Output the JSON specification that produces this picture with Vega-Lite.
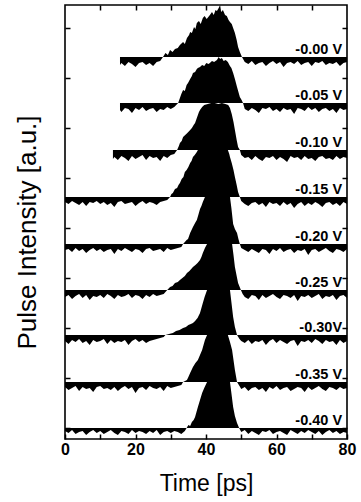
{
"$schema": "https://vega.github.io/schema/vega-lite/v6.json",
"width": 282, "height": 434,
"autosize": {"type": "none"},
"padding": {"left": 65, "top": 5, "right": 14, "bottom": 63},
"background": "white",
"config": {
  "view": {"stroke": "black", "strokeWidth": 1.6},
  "axis": {"domain": false, "grid": false, "tickColor": "black", "tickWidth": 1.5, "tickSize": 5, "labelFont": "Liberation Sans", "titleFont": "Liberation Sans", "labelColor": "black", "titleColor": "black"}
},
"layer": [
{
"data": {"values": [
{"s":0,"t":15.6,"y":382,"y2":374},{"s":0,"t":16,"y":382,"y2":376},{"s":0,"t":17,"y":382,"y2":373},{"s":0,"t":18,"y":382,"y2":377},{"s":0,"t":19,"y":382,"y2":375},{"s":0,"t":20,"y":382,"y2":372},{"s":0,"t":21,"y":382,"y2":376},{"s":0,"t":22,"y":382,"y2":377},{"s":0,"t":23,"y":382,"y2":374},{"s":0,"t":24,"y":382,"y2":376},{"s":0,"t":25,"y":382,"y2":373},{"s":0,"t":26,"y":382,"y2":377},{"s":0,"t":27,"y":382,"y2":378},
{"s":0,"t":27.8,"y":382,"y2":382},{"s":0,"t":28.5,"y":386,"y2":382},{"s":0,"t":29.2,"y":384,"y2":382},{"s":0,"t":29.8,"y":389,"y2":382},{"s":0,"t":30.5,"y":387,"y2":382},{"s":0,"t":31.2,"y":390,"y2":382},{"s":0,"t":32.0,"y":391,"y2":382},{"s":0,"t":32.6,"y":394,"y2":382},{"s":0,"t":33.5,"y":397,"y2":382},{"s":0,"t":34.0,"y":395,"y2":382},{"s":0,"t":34.6,"y":401,"y2":382},{"s":0,"t":35.2,"y":404,"y2":382},{"s":0,"t":35.5,"y":407,"y2":382},{"s":0,"t":36.0,"y":406,"y2":382},{"s":0,"t":36.6,"y":412,"y2":382},{"s":0,"t":37.0,"y":410,"y2":382},{"s":0,"t":37.4,"y":416,"y2":382},{"s":0,"t":38.0,"y":418,"y2":382},{"s":0,"t":38.5,"y":415,"y2":382},{"s":0,"t":39.1,"y":421,"y2":382},{"s":0,"t":39.6,"y":423,"y2":382},{"s":0,"t":40.2,"y":420,"y2":382},{"s":0,"t":41.1,"y":424,"y2":382},{"s":0,"t":41.7,"y":427,"y2":382},{"s":0,"t":42.2,"y":424,"y2":382},{"s":0,"t":42.7,"y":429,"y2":382},{"s":0,"t":43.1,"y":428,"y2":382},{"s":0,"t":43.6,"y":431,"y2":382},{"s":0,"t":44.0,"y":434,"y2":382},{"s":0,"t":44.3,"y":427,"y2":382},{"s":0,"t":44.8,"y":429,"y2":382},{"s":0,"t":45.4,"y":424,"y2":382},{"s":0,"t":45.9,"y":423,"y2":382},{"s":0,"t":46.4,"y":419,"y2":382},{"s":0,"t":46.8,"y":417,"y2":382},{"s":0,"t":47.3,"y":415,"y2":382},{"s":0,"t":47.8,"y":410,"y2":382},{"s":0,"t":48.2,"y":406,"y2":382},{"s":0,"t":48.7,"y":399,"y2":382},{"s":0,"t":49.1,"y":392,"y2":382},{"s":0,"t":49.6,"y":387,"y2":382},{"s":0,"t":50.2,"y":382,"y2":382},
{"s":0,"t":51,"y":382,"y2":377},{"s":0,"t":52,"y":382,"y2":375},{"s":0,"t":53,"y":382,"y2":378},{"s":0,"t":54,"y":382,"y2":374},{"s":0,"t":55,"y":382,"y2":376},{"s":0,"t":56,"y":382,"y2":377},{"s":0,"t":57,"y":382,"y2":373},{"s":0,"t":58,"y":382,"y2":376},{"s":0,"t":59,"y":382,"y2":378},{"s":0,"t":60,"y":382,"y2":375},{"s":0,"t":61,"y":382,"y2":377},{"s":0,"t":62,"y":382,"y2":372},{"s":0,"t":63,"y":382,"y2":376},{"s":0,"t":64,"y":382,"y2":377},{"s":0,"t":65,"y":382,"y2":375},{"s":0,"t":66,"y":382,"y2":378},{"s":0,"t":67,"y":382,"y2":374},{"s":0,"t":68,"y":382,"y2":376},{"s":0,"t":69,"y":382,"y2":377},{"s":0,"t":70,"y":382,"y2":373},{"s":0,"t":71,"y":382,"y2":377},{"s":0,"t":72,"y":382,"y2":376},{"s":0,"t":73,"y":382,"y2":378},{"s":0,"t":74,"y":382,"y2":374},{"s":0,"t":75,"y":382,"y2":376},{"s":0,"t":76,"y":382,"y2":375},{"s":0,"t":77,"y":382,"y2":377},{"s":0,"t":78,"y":382,"y2":373},{"s":0,"t":79,"y":382,"y2":376},{"s":0,"t":80,"y":382,"y2":377},

{"s":1,"t":15.6,"y":336,"y2":329},{"s":1,"t":16,"y":336,"y2":327},{"s":1,"t":17,"y":336,"y2":331},{"s":1,"t":18,"y":336,"y2":330},{"s":1,"t":19,"y":336,"y2":326},{"s":1,"t":20,"y":336,"y2":331},{"s":1,"t":21,"y":336,"y2":329},{"s":1,"t":22,"y":336,"y2":332},{"s":1,"t":23,"y":336,"y2":328},{"s":1,"t":24,"y":336,"y2":330},{"s":1,"t":25,"y":336,"y2":331},{"s":1,"t":26,"y":336,"y2":327},{"s":1,"t":27,"y":336,"y2":330},{"s":1,"t":28,"y":336,"y2":329},{"s":1,"t":29,"y":336,"y2":332},{"s":1,"t":30,"y":336,"y2":330},{"s":1,"t":31,"y":336,"y2":332},
{"s":1,"t":32.1,"y":336,"y2":336},{"s":1,"t":32.6,"y":341,"y2":336},{"s":1,"t":33.0,"y":345,"y2":336},{"s":1,"t":33.5,"y":349,"y2":336},{"s":1,"t":34.0,"y":348,"y2":336},{"s":1,"t":34.5,"y":354,"y2":336},{"s":1,"t":34.9,"y":356,"y2":336},{"s":1,"t":35.5,"y":360,"y2":336},{"s":1,"t":36.0,"y":363,"y2":336},{"s":1,"t":36.3,"y":366,"y2":336},{"s":1,"t":36.9,"y":367,"y2":336},{"s":1,"t":37.4,"y":370,"y2":336},{"s":1,"t":37.7,"y":371,"y2":336},{"s":1,"t":38.3,"y":372,"y2":336},{"s":1,"t":38.9,"y":374,"y2":336},{"s":1,"t":39.5,"y":373,"y2":336},{"s":1,"t":40.1,"y":376,"y2":336},{"s":1,"t":40.7,"y":375,"y2":336},{"s":1,"t":41.1,"y":376,"y2":336},{"s":1,"t":41.7,"y":378,"y2":336},{"s":1,"t":42.3,"y":377,"y2":336},{"s":1,"t":43.1,"y":379,"y2":336},{"s":1,"t":43.6,"y":382,"y2":336},{"s":1,"t":44.0,"y":380,"y2":336},{"s":1,"t":44.5,"y":381,"y2":336},{"s":1,"t":45.0,"y":378,"y2":336},{"s":1,"t":45.6,"y":379,"y2":336},{"s":1,"t":46.2,"y":377,"y2":336},{"s":1,"t":46.8,"y":373,"y2":336},{"s":1,"t":47.2,"y":371,"y2":336},{"s":1,"t":47.7,"y":366,"y2":336},{"s":1,"t":48.2,"y":360,"y2":336},{"s":1,"t":48.8,"y":352,"y2":336},{"s":1,"t":49.2,"y":347,"y2":336},{"s":1,"t":49.6,"y":342,"y2":336},{"s":1,"t":50.1,"y":339,"y2":336},{"s":1,"t":50.5,"y":336,"y2":336},
{"s":1,"t":51,"y":336,"y2":330},{"s":1,"t":52,"y":336,"y2":328},{"s":1,"t":53,"y":336,"y2":331},{"s":1,"t":54,"y":336,"y2":329},{"s":1,"t":55,"y":336,"y2":326},{"s":1,"t":56,"y":336,"y2":331},{"s":1,"t":57,"y":336,"y2":330},{"s":1,"t":58,"y":336,"y2":332},{"s":1,"t":59,"y":336,"y2":328},{"s":1,"t":60,"y":336,"y2":330},{"s":1,"t":61,"y":336,"y2":327},{"s":1,"t":62,"y":336,"y2":331},{"s":1,"t":63,"y":336,"y2":329},{"s":1,"t":64,"y":336,"y2":330},{"s":1,"t":65,"y":336,"y2":325},{"s":1,"t":66,"y":336,"y2":331},{"s":1,"t":67,"y":336,"y2":330},{"s":1,"t":68,"y":336,"y2":328},{"s":1,"t":69,"y":336,"y2":332},{"s":1,"t":70,"y":336,"y2":329},{"s":1,"t":71,"y":336,"y2":331},{"s":1,"t":72,"y":336,"y2":327},{"s":1,"t":73,"y":336,"y2":330},{"s":1,"t":74,"y":336,"y2":331},{"s":1,"t":75,"y":336,"y2":328},{"s":1,"t":76,"y":336,"y2":330},{"s":1,"t":77,"y":336,"y2":326},{"s":1,"t":78,"y":336,"y2":331},{"s":1,"t":79,"y":336,"y2":329},{"s":1,"t":80,"y":336,"y2":330},

{"s":2,"t":13.6,"y":289,"y2":280},{"s":2,"t":14,"y":289,"y2":282},{"s":2,"t":15,"y":289,"y2":279},{"s":2,"t":16,"y":289,"y2":283},{"s":2,"t":17,"y":289,"y2":281},{"s":2,"t":18,"y":289,"y2":278},{"s":2,"t":19,"y":289,"y2":283},{"s":2,"t":20,"y":289,"y2":280},{"s":2,"t":21,"y":289,"y2":282},{"s":2,"t":22,"y":289,"y2":284},{"s":2,"t":23,"y":289,"y2":279},{"s":2,"t":24,"y":289,"y2":283},{"s":2,"t":25,"y":289,"y2":281},{"s":2,"t":26,"y":289,"y2":282},{"s":2,"t":27,"y":289,"y2":278},{"s":2,"t":28,"y":289,"y2":283},{"s":2,"t":29,"y":289,"y2":281},{"s":2,"t":30,"y":289,"y2":284},{"s":2,"t":31,"y":289,"y2":285},
{"s":2,"t":31.8,"y":289,"y2":289},{"s":2,"t":32.3,"y":293,"y2":289},{"s":2,"t":32.6,"y":296,"y2":289},{"s":2,"t":33.1,"y":298,"y2":289},{"s":2,"t":33.5,"y":302,"y2":289},{"s":2,"t":34.1,"y":304,"y2":289},{"s":2,"t":34.7,"y":306,"y2":289},{"s":2,"t":35.5,"y":309,"y2":289},{"s":2,"t":36.0,"y":311,"y2":289},{"s":2,"t":36.5,"y":314,"y2":289},{"s":2,"t":36.9,"y":316,"y2":289},{"s":2,"t":37.3,"y":320,"y2":289},{"s":2,"t":37.7,"y":324,"y2":289},{"s":2,"t":38.0,"y":327,"y2":289},{"s":2,"t":38.3,"y":329,"y2":289},{"s":2,"t":38.9,"y":332,"y2":289},{"s":2,"t":39.5,"y":334,"y2":289},{"s":2,"t":40.5,"y":335,"y2":289},{"s":2,"t":41.5,"y":336,"y2":289},{"s":2,"t":42.5,"y":336,"y2":289},{"s":2,"t":43.5,"y":335,"y2":289},{"s":2,"t":44.5,"y":336,"y2":289},{"s":2,"t":45.5,"y":335,"y2":289},{"s":2,"t":46.3,"y":334,"y2":289},{"s":2,"t":46.8,"y":331,"y2":289},{"s":2,"t":47.3,"y":325,"y2":289},{"s":2,"t":47.8,"y":317,"y2":289},{"s":2,"t":48.2,"y":309,"y2":289},{"s":2,"t":48.7,"y":299,"y2":289},{"s":2,"t":49.1,"y":292,"y2":289},{"s":2,"t":49.6,"y":289,"y2":289},
{"s":2,"t":50,"y":289,"y2":284},{"s":2,"t":51,"y":289,"y2":281},{"s":2,"t":52,"y":289,"y2":282},{"s":2,"t":53,"y":289,"y2":279},{"s":2,"t":54,"y":289,"y2":283},{"s":2,"t":55,"y":289,"y2":280},{"s":2,"t":56,"y":289,"y2":278},{"s":2,"t":57,"y":289,"y2":282},{"s":2,"t":58,"y":289,"y2":281},{"s":2,"t":59,"y":289,"y2":283},{"s":2,"t":60,"y":289,"y2":279},{"s":2,"t":61,"y":289,"y2":282},{"s":2,"t":62,"y":289,"y2":280},{"s":2,"t":63,"y":289,"y2":277},{"s":2,"t":64,"y":289,"y2":283},{"s":2,"t":65,"y":289,"y2":281},{"s":2,"t":66,"y":289,"y2":282},{"s":2,"t":67,"y":289,"y2":279},{"s":2,"t":68,"y":289,"y2":283},{"s":2,"t":69,"y":289,"y2":280},{"s":2,"t":70,"y":289,"y2":281},{"s":2,"t":71,"y":289,"y2":278},{"s":2,"t":72,"y":289,"y2":282},{"s":2,"t":73,"y":289,"y2":283},{"s":2,"t":74,"y":289,"y2":280},{"s":2,"t":75,"y":289,"y2":281},{"s":2,"t":76,"y":289,"y2":279},{"s":2,"t":77,"y":289,"y2":283},{"s":2,"t":78,"y":289,"y2":280},{"s":2,"t":79,"y":289,"y2":282},{"s":2,"t":80,"y":289,"y2":281},

{"s":3,"t":0,"y":242,"y2":237},{"s":3,"t":1,"y":242,"y2":235},{"s":3,"t":2,"y":242,"y2":238},{"s":3,"t":3,"y":242,"y2":236},{"s":3,"t":4,"y":242,"y2":234},{"s":3,"t":5,"y":242,"y2":237},{"s":3,"t":6,"y":242,"y2":233},{"s":3,"t":7,"y":242,"y2":237},{"s":3,"t":8,"y":242,"y2":236},{"s":3,"t":9,"y":242,"y2":238},{"s":3,"t":10,"y":242,"y2":235},{"s":3,"t":11,"y":242,"y2":237},{"s":3,"t":12,"y":242,"y2":234},{"s":3,"t":13,"y":242,"y2":236},{"s":3,"t":14,"y":242,"y2":232},{"s":3,"t":15,"y":242,"y2":237},{"s":3,"t":16,"y":242,"y2":238},{"s":3,"t":17,"y":242,"y2":235},{"s":3,"t":18,"y":242,"y2":236},{"s":3,"t":19,"y":242,"y2":237},{"s":3,"t":20,"y":242,"y2":233},{"s":3,"t":21,"y":242,"y2":236},{"s":3,"t":22,"y":242,"y2":238},{"s":3,"t":23,"y":242,"y2":235},{"s":3,"t":24,"y":242,"y2":237},{"s":3,"t":25,"y":242,"y2":236},{"s":3,"t":26,"y":242,"y2":234},{"s":3,"t":27,"y":242,"y2":237},{"s":3,"t":28,"y":242,"y2":238},{"s":3,"t":29,"y":242,"y2":239},
{"s":3,"t":29.8,"y":242,"y2":242},{"s":3,"t":30.2,"y":245,"y2":242},{"s":3,"t":30.6,"y":246,"y2":242},{"s":3,"t":31.2,"y":250,"y2":242},{"s":3,"t":31.8,"y":251,"y2":242},{"s":3,"t":32.2,"y":254,"y2":242},{"s":3,"t":32.6,"y":256,"y2":242},{"s":3,"t":33.1,"y":260,"y2":242},{"s":3,"t":33.6,"y":262,"y2":242},{"s":3,"t":34.0,"y":267,"y2":242},{"s":3,"t":34.5,"y":269,"y2":242},{"s":3,"t":35.0,"y":272,"y2":242},{"s":3,"t":35.5,"y":276,"y2":242},{"s":3,"t":35.9,"y":278,"y2":242},{"s":3,"t":36.3,"y":282,"y2":242},{"s":3,"t":36.8,"y":284,"y2":242},{"s":3,"t":37.4,"y":287,"y2":242},{"s":3,"t":37.7,"y":289,"y2":242},{"s":3,"t":46.2,"y":289,"y2":242},{"s":3,"t":46.6,"y":285,"y2":242},{"s":3,"t":46.8,"y":282,"y2":242},{"s":3,"t":47.3,"y":276,"y2":242},{"s":3,"t":47.8,"y":269,"y2":242},{"s":3,"t":48.2,"y":262,"y2":242},{"s":3,"t":48.7,"y":254,"y2":242},{"s":3,"t":49.1,"y":247,"y2":242},{"s":3,"t":49.6,"y":242,"y2":242},
{"s":3,"t":50,"y":242,"y2":238},{"s":3,"t":51,"y":242,"y2":235},{"s":3,"t":52,"y":242,"y2":233},{"s":3,"t":53,"y":242,"y2":236},{"s":3,"t":54,"y":242,"y2":237},{"s":3,"t":55,"y":242,"y2":234},{"s":3,"t":56,"y":242,"y2":236},{"s":3,"t":57,"y":242,"y2":232},{"s":3,"t":58,"y":242,"y2":237},{"s":3,"t":59,"y":242,"y2":235},{"s":3,"t":60,"y":242,"y2":236},{"s":3,"t":61,"y":242,"y2":233},{"s":3,"t":62,"y":242,"y2":237},{"s":3,"t":63,"y":242,"y2":234},{"s":3,"t":64,"y":242,"y2":236},{"s":3,"t":65,"y":242,"y2":231},{"s":3,"t":66,"y":242,"y2":235},{"s":3,"t":67,"y":242,"y2":237},{"s":3,"t":68,"y":242,"y2":233},{"s":3,"t":69,"y":242,"y2":236},{"s":3,"t":70,"y":242,"y2":234},{"s":3,"t":71,"y":242,"y2":237},{"s":3,"t":72,"y":242,"y2":235},{"s":3,"t":73,"y":242,"y2":232},{"s":3,"t":74,"y":242,"y2":236},{"s":3,"t":75,"y":242,"y2":237},{"s":3,"t":76,"y":242,"y2":234},{"s":3,"t":77,"y":242,"y2":236},{"s":3,"t":78,"y":242,"y2":233},{"s":3,"t":79,"y":242,"y2":237},{"s":3,"t":80,"y":242,"y2":235},

{"s":4,"t":0,"y":195,"y2":189},{"s":4,"t":1,"y":195,"y2":190},{"s":4,"t":2,"y":195,"y2":187},{"s":4,"t":3,"y":195,"y2":191},{"s":4,"t":4,"y":195,"y2":188},{"s":4,"t":5,"y":195,"y2":190},{"s":4,"t":6,"y":195,"y2":186},{"s":4,"t":7,"y":195,"y2":189},{"s":4,"t":8,"y":195,"y2":191},{"s":4,"t":9,"y":195,"y2":188},{"s":4,"t":10,"y":195,"y2":190},{"s":4,"t":11,"y":195,"y2":187},{"s":4,"t":12,"y":195,"y2":189},{"s":4,"t":13,"y":195,"y2":190},{"s":4,"t":14,"y":195,"y2":185},{"s":4,"t":15,"y":195,"y2":190},{"s":4,"t":16,"y":195,"y2":188},{"s":4,"t":17,"y":195,"y2":191},{"s":4,"t":18,"y":195,"y2":189},{"s":4,"t":19,"y":195,"y2":187},{"s":4,"t":20,"y":195,"y2":190},{"s":4,"t":21,"y":195,"y2":189},{"s":4,"t":22,"y":195,"y2":186},{"s":4,"t":23,"y":195,"y2":190},{"s":4,"t":24,"y":195,"y2":191},{"s":4,"t":25,"y":195,"y2":188},{"s":4,"t":26,"y":195,"y2":189},{"s":4,"t":27,"y":195,"y2":190},{"s":4,"t":28,"y":195,"y2":187},{"s":4,"t":29,"y":195,"y2":191},{"s":4,"t":30,"y":195,"y2":189},{"s":4,"t":31,"y":195,"y2":190},{"s":4,"t":32,"y":195,"y2":191},{"s":4,"t":33,"y":195,"y2":192},
{"s":4,"t":33.5,"y":195,"y2":195},{"s":4,"t":34.0,"y":197,"y2":195},{"s":4,"t":34.5,"y":199,"y2":195},{"s":4,"t":34.9,"y":200,"y2":195},{"s":4,"t":35.5,"y":206,"y2":195},{"s":4,"t":35.9,"y":209,"y2":195},{"s":4,"t":36.3,"y":212,"y2":195},{"s":4,"t":36.9,"y":216,"y2":195},{"s":4,"t":37.4,"y":219,"y2":195},{"s":4,"t":37.9,"y":225,"y2":195},{"s":4,"t":38.3,"y":230,"y2":195},{"s":4,"t":38.7,"y":233,"y2":195},{"s":4,"t":39.1,"y":237,"y2":195},{"s":4,"t":39.7,"y":242,"y2":195},{"s":4,"t":46.8,"y":242,"y2":195},{"s":4,"t":47.2,"y":231,"y2":195},{"s":4,"t":47.7,"y":215,"y2":195},{"s":4,"t":48.2,"y":210,"y2":195},{"s":4,"t":48.8,"y":206,"y2":195},{"s":4,"t":49.2,"y":200,"y2":195},{"s":4,"t":49.6,"y":195,"y2":195},
{"s":4,"t":50,"y":195,"y2":191},{"s":4,"t":51,"y":195,"y2":189},{"s":4,"t":52,"y":195,"y2":187},{"s":4,"t":53,"y":195,"y2":190},{"s":4,"t":54,"y":195,"y2":188},{"s":4,"t":55,"y":195,"y2":186},{"s":4,"t":56,"y":195,"y2":190},{"s":4,"t":57,"y":195,"y2":189},{"s":4,"t":58,"y":195,"y2":185},{"s":4,"t":59,"y":195,"y2":190},{"s":4,"t":60,"y":195,"y2":188},{"s":4,"t":61,"y":195,"y2":191},{"s":4,"t":62,"y":195,"y2":187},{"s":4,"t":63,"y":195,"y2":189},{"s":4,"t":64,"y":195,"y2":190},{"s":4,"t":65,"y":195,"y2":186},{"s":4,"t":66,"y":195,"y2":189},{"s":4,"t":67,"y":195,"y2":188},{"s":4,"t":68,"y":195,"y2":190},{"s":4,"t":69,"y":195,"y2":184},{"s":4,"t":70,"y":195,"y2":189},{"s":4,"t":71,"y":195,"y2":190},{"s":4,"t":72,"y":195,"y2":187},{"s":4,"t":73,"y":195,"y2":189},{"s":4,"t":74,"y":195,"y2":191},{"s":4,"t":75,"y":195,"y2":188},{"s":4,"t":76,"y":195,"y2":186},{"s":4,"t":77,"y":195,"y2":190},{"s":4,"t":78,"y":195,"y2":189},{"s":4,"t":79,"y":195,"y2":187},{"s":4,"t":80,"y":195,"y2":190},

{"s":5,"t":0,"y":149,"y2":142},{"s":5,"t":1,"y":149,"y2":144},{"s":5,"t":2,"y":149,"y2":140},{"s":5,"t":3,"y":149,"y2":143},{"s":5,"t":4,"y":149,"y2":145},{"s":5,"t":5,"y":149,"y2":141},{"s":5,"t":6,"y":149,"y2":144},{"s":5,"t":7,"y":149,"y2":139},{"s":5,"t":8,"y":149,"y2":143},{"s":5,"t":9,"y":149,"y2":142},{"s":5,"t":10,"y":149,"y2":144},{"s":5,"t":11,"y":149,"y2":141},{"s":5,"t":12,"y":149,"y2":145},{"s":5,"t":13,"y":149,"y2":143},{"s":5,"t":14,"y":149,"y2":140},{"s":5,"t":15,"y":149,"y2":144},{"s":5,"t":16,"y":149,"y2":142},{"s":5,"t":17,"y":149,"y2":143},{"s":5,"t":18,"y":149,"y2":145},{"s":5,"t":19,"y":149,"y2":141},{"s":5,"t":20,"y":149,"y2":144},{"s":5,"t":21,"y":149,"y2":143},{"s":5,"t":22,"y":149,"y2":140},{"s":5,"t":23,"y":149,"y2":144},{"s":5,"t":24,"y":149,"y2":142},{"s":5,"t":25,"y":149,"y2":145},{"s":5,"t":26,"y":149,"y2":143},{"s":5,"t":27,"y":149,"y2":144},{"s":5,"t":28,"y":149,"y2":145},
{"s":5,"t":29.0,"y":149,"y2":149},{"s":5,"t":29.8,"y":152,"y2":149},{"s":5,"t":30.5,"y":153,"y2":149},{"s":5,"t":31.2,"y":156,"y2":149},{"s":5,"t":32.0,"y":157,"y2":149},{"s":5,"t":32.6,"y":159,"y2":149},{"s":5,"t":33.3,"y":161,"y2":149},{"s":5,"t":34.0,"y":163,"y2":149},{"s":5,"t":34.6,"y":166,"y2":149},{"s":5,"t":35.3,"y":168,"y2":149},{"s":5,"t":35.8,"y":170,"y2":149},{"s":5,"t":36.3,"y":172,"y2":149},{"s":5,"t":37.0,"y":174,"y2":149},{"s":5,"t":37.6,"y":176,"y2":149},{"s":5,"t":38.3,"y":179,"y2":149},{"s":5,"t":38.7,"y":182,"y2":149},{"s":5,"t":39.1,"y":186,"y2":149},{"s":5,"t":39.7,"y":191,"y2":149},{"s":5,"t":40.3,"y":195,"y2":149},{"s":5,"t":47.4,"y":195,"y2":149},{"s":5,"t":47.8,"y":184,"y2":149},{"s":5,"t":48.2,"y":172,"y2":149},{"s":5,"t":48.7,"y":163,"y2":149},{"s":5,"t":49.1,"y":156,"y2":149},{"s":5,"t":49.9,"y":149,"y2":149},
{"s":5,"t":50.4,"y":149,"y2":145},{"s":5,"t":51,"y":149,"y2":142},{"s":5,"t":52,"y":149,"y2":140},{"s":5,"t":53,"y":149,"y2":144},{"s":5,"t":54,"y":149,"y2":143},{"s":5,"t":55,"y":149,"y2":139},{"s":5,"t":56,"y":149,"y2":144},{"s":5,"t":57,"y":149,"y2":141},{"s":5,"t":58,"y":149,"y2":143},{"s":5,"t":59,"y":149,"y2":145},{"s":5,"t":60,"y":149,"y2":142},{"s":5,"t":61,"y":149,"y2":140},{"s":5,"t":62,"y":149,"y2":144},{"s":5,"t":63,"y":149,"y2":143},{"s":5,"t":64,"y":149,"y2":141},{"s":5,"t":65,"y":149,"y2":144},{"s":5,"t":66,"y":149,"y2":138},{"s":5,"t":67,"y":149,"y2":143},{"s":5,"t":68,"y":149,"y2":142},{"s":5,"t":69,"y":149,"y2":144},{"s":5,"t":70,"y":149,"y2":141},{"s":5,"t":71,"y":149,"y2":143},{"s":5,"t":72,"y":149,"y2":145},{"s":5,"t":73,"y":149,"y2":140},{"s":5,"t":74,"y":149,"y2":143},{"s":5,"t":75,"y":149,"y2":142},{"s":5,"t":76,"y":149,"y2":144},{"s":5,"t":77,"y":149,"y2":139},{"s":5,"t":78,"y":149,"y2":143},{"s":5,"t":79,"y":149,"y2":144},{"s":5,"t":80,"y":149,"y2":141},

{"s":6,"t":0,"y":104,"y2":98},{"s":6,"t":1,"y":104,"y2":95},{"s":6,"t":2,"y":104,"y2":99},{"s":6,"t":3,"y":104,"y2":97},{"s":6,"t":4,"y":104,"y2":100},{"s":6,"t":5,"y":104,"y2":96},{"s":6,"t":6,"y":104,"y2":98},{"s":6,"t":7,"y":104,"y2":94},{"s":6,"t":8,"y":104,"y2":99},{"s":6,"t":9,"y":104,"y2":97},{"s":6,"t":10,"y":104,"y2":98},{"s":6,"t":11,"y":104,"y2":100},{"s":6,"t":12,"y":104,"y2":95},{"s":6,"t":13,"y":104,"y2":99},{"s":6,"t":14,"y":104,"y2":96},{"s":6,"t":15,"y":104,"y2":98},{"s":6,"t":16,"y":104,"y2":97},{"s":6,"t":17,"y":104,"y2":99},{"s":6,"t":18,"y":104,"y2":94},{"s":6,"t":19,"y":104,"y2":98},{"s":6,"t":20,"y":104,"y2":100},{"s":6,"t":21,"y":104,"y2":97},{"s":6,"t":22,"y":104,"y2":99},{"s":6,"t":23,"y":104,"y2":96},{"s":6,"t":24,"y":104,"y2":98},{"s":6,"t":25,"y":104,"y2":99},{"s":6,"t":26,"y":104,"y2":100},{"s":6,"t":27,"y":104,"y2":101},{"s":6,"t":28,"y":104,"y2":102},
{"s":6,"t":28.5,"y":104,"y2":104},{"s":6,"t":29.5,"y":105,"y2":104},{"s":6,"t":30.6,"y":106,"y2":104},{"s":6,"t":31.5,"y":108,"y2":104},{"s":6,"t":32.5,"y":109,"y2":104},{"s":6,"t":33.5,"y":111,"y2":104},{"s":6,"t":34.3,"y":112,"y2":104},{"s":6,"t":35.0,"y":114,"y2":104},{"s":6,"t":35.7,"y":115,"y2":104},{"s":6,"t":36.3,"y":116,"y2":104},{"s":6,"t":36.9,"y":118,"y2":104},{"s":6,"t":37.6,"y":121,"y2":104},{"s":6,"t":38.3,"y":126,"y2":104},{"s":6,"t":38.7,"y":131,"y2":104},{"s":6,"t":39.1,"y":136,"y2":104},{"s":6,"t":39.6,"y":142,"y2":104},{"s":6,"t":40.3,"y":149,"y2":104},{"s":6,"t":46.8,"y":149,"y2":104},{"s":6,"t":47.2,"y":137,"y2":104},{"s":6,"t":47.7,"y":122,"y2":104},{"s":6,"t":48.2,"y":112,"y2":104},{"s":6,"t":48.8,"y":104,"y2":104},
{"s":6,"t":49.5,"y":104,"y2":100},{"s":6,"t":50,"y":104,"y2":98},{"s":6,"t":51,"y":104,"y2":96},{"s":6,"t":52,"y":104,"y2":99},{"s":6,"t":53,"y":104,"y2":95},{"s":6,"t":54,"y":104,"y2":98},{"s":6,"t":55,"y":104,"y2":97},{"s":6,"t":56,"y":104,"y2":99},{"s":6,"t":57,"y":104,"y2":94},{"s":6,"t":58,"y":104,"y2":98},{"s":6,"t":59,"y":104,"y2":100},{"s":6,"t":60,"y":104,"y2":96},{"s":6,"t":61,"y":104,"y2":99},{"s":6,"t":62,"y":104,"y2":97},{"s":6,"t":63,"y":104,"y2":95},{"s":6,"t":64,"y":104,"y2":98},{"s":6,"t":65,"y":104,"y2":99},{"s":6,"t":66,"y":104,"y2":93},{"s":6,"t":67,"y":104,"y2":98},{"s":6,"t":68,"y":104,"y2":97},{"s":6,"t":69,"y":104,"y2":99},{"s":6,"t":70,"y":104,"y2":96},{"s":6,"t":71,"y":104,"y2":100},{"s":6,"t":72,"y":104,"y2":98},{"s":6,"t":73,"y":104,"y2":95},{"s":6,"t":74,"y":104,"y2":99},{"s":6,"t":75,"y":104,"y2":97},{"s":6,"t":76,"y":104,"y2":98},{"s":6,"t":77,"y":104,"y2":94},{"s":6,"t":78,"y":104,"y2":99},{"s":6,"t":79,"y":104,"y2":96},{"s":6,"t":80,"y":104,"y2":98},

{"s":7,"t":0,"y":57,"y2":52},{"s":7,"t":1,"y":57,"y2":49},{"s":7,"t":2,"y":57,"y2":51},{"s":7,"t":3,"y":57,"y2":53},{"s":7,"t":4,"y":57,"y2":48},{"s":7,"t":5,"y":57,"y2":52},{"s":7,"t":6,"y":57,"y2":50},{"s":7,"t":7,"y":57,"y2":51},{"s":7,"t":8,"y":57,"y2":47},{"s":7,"t":9,"y":57,"y2":52},{"s":7,"t":10,"y":57,"y2":53},{"s":7,"t":11,"y":57,"y2":50},{"s":7,"t":12,"y":57,"y2":51},{"s":7,"t":13,"y":57,"y2":49},{"s":7,"t":14,"y":57,"y2":52},{"s":7,"t":15,"y":57,"y2":48},{"s":7,"t":16,"y":57,"y2":51},{"s":7,"t":17,"y":57,"y2":53},{"s":7,"t":18,"y":57,"y2":50},{"s":7,"t":19,"y":57,"y2":52},{"s":7,"t":20,"y":57,"y2":46},{"s":7,"t":21,"y":57,"y2":51},{"s":7,"t":22,"y":57,"y2":52},{"s":7,"t":23,"y":57,"y2":49},{"s":7,"t":24,"y":57,"y2":53},{"s":7,"t":25,"y":57,"y2":51},{"s":7,"t":26,"y":57,"y2":50},{"s":7,"t":27,"y":57,"y2":52},{"s":7,"t":28,"y":57,"y2":48},{"s":7,"t":29,"y":57,"y2":53},{"s":7,"t":30,"y":57,"y2":51},{"s":7,"t":31,"y":57,"y2":52},{"s":7,"t":32,"y":57,"y2":53},{"s":7,"t":33,"y":57,"y2":54},
{"s":7,"t":33.5,"y":57,"y2":57},{"s":7,"t":34.6,"y":59,"y2":57},{"s":7,"t":35.0,"y":62,"y2":57},{"s":7,"t":35.5,"y":66,"y2":57},{"s":7,"t":35.9,"y":69,"y2":57},{"s":7,"t":36.3,"y":72,"y2":57},{"s":7,"t":37.0,"y":76,"y2":57},{"s":7,"t":37.7,"y":79,"y2":57},{"s":7,"t":38.3,"y":84,"y2":57},{"s":7,"t":38.9,"y":89,"y2":57},{"s":7,"t":39.3,"y":94,"y2":57},{"s":7,"t":39.7,"y":99,"y2":57},{"s":7,"t":40.3,"y":104,"y2":57},{"s":7,"t":46.2,"y":104,"y2":57},{"s":7,"t":46.8,"y":97,"y2":57},{"s":7,"t":47.4,"y":89,"y2":57},{"s":7,"t":47.8,"y":79,"y2":57},{"s":7,"t":48.2,"y":69,"y2":57},{"s":7,"t":48.5,"y":63,"y2":57},{"s":7,"t":48.8,"y":57,"y2":57},
{"s":7,"t":49.5,"y":57,"y2":53},{"s":7,"t":50,"y":57,"y2":50},{"s":7,"t":51,"y":57,"y2":52},{"s":7,"t":52,"y":57,"y2":48},{"s":7,"t":53,"y":57,"y2":51},{"s":7,"t":54,"y":57,"y2":52},{"s":7,"t":55,"y":57,"y2":49},{"s":7,"t":56,"y":57,"y2":51},{"s":7,"t":57,"y":57,"y2":47},{"s":7,"t":58,"y":57,"y2":52},{"s":7,"t":59,"y":57,"y2":50},{"s":7,"t":60,"y":57,"y2":53},{"s":7,"t":61,"y":57,"y2":49},{"s":7,"t":62,"y":57,"y2":51},{"s":7,"t":63,"y":57,"y2":52},{"s":7,"t":64,"y":57,"y2":48},{"s":7,"t":65,"y":57,"y2":50},{"s":7,"t":66,"y":57,"y2":52},{"s":7,"t":67,"y":57,"y2":51},{"s":7,"t":68,"y":57,"y2":47},{"s":7,"t":69,"y":57,"y2":52},{"s":7,"t":70,"y":57,"y2":49},{"s":7,"t":71,"y":57,"y2":51},{"s":7,"t":72,"y":57,"y2":53},{"s":7,"t":73,"y":57,"y2":50},{"s":7,"t":74,"y":57,"y2":48},{"s":7,"t":75,"y":57,"y2":52},{"s":7,"t":76,"y":57,"y2":51},{"s":7,"t":77,"y":57,"y2":49},{"s":7,"t":78,"y":57,"y2":52},{"s":7,"t":79,"y":57,"y2":50},{"s":7,"t":80,"y":57,"y2":51},

{"s":8,"t":0,"y":11,"y2":8},{"s":8,"t":1,"y":11,"y2":6},{"s":8,"t":2,"y":11,"y2":9},{"s":8,"t":3,"y":11,"y2":5},{"s":8,"t":4,"y":11,"y2":7},{"s":8,"t":5,"y":11,"y2":8},{"s":8,"t":6,"y":11,"y2":4},{"s":8,"t":7,"y":11,"y2":7},{"s":8,"t":8,"y":11,"y2":9},{"s":8,"t":9,"y":11,"y2":6},{"s":8,"t":10,"y":11,"y2":8},{"s":8,"t":11,"y":11,"y2":5},{"s":8,"t":12,"y":11,"y2":7},{"s":8,"t":13,"y":11,"y2":9},{"s":8,"t":14,"y":11,"y2":6},{"s":8,"t":15,"y":11,"y2":4},{"s":8,"t":16,"y":11,"y2":8},{"s":8,"t":17,"y":11,"y2":7},{"s":8,"t":18,"y":11,"y2":5},{"s":8,"t":19,"y":11,"y2":9},{"s":8,"t":20,"y":11,"y2":6},{"s":8,"t":21,"y":11,"y2":8},{"s":8,"t":22,"y":11,"y2":7},{"s":8,"t":23,"y":11,"y2":5},{"s":8,"t":24,"y":11,"y2":8},{"s":8,"t":25,"y":11,"y2":6},{"s":8,"t":26,"y":11,"y2":9},{"s":8,"t":27,"y":11,"y2":4},{"s":8,"t":28,"y":11,"y2":7},{"s":8,"t":29,"y":11,"y2":8},{"s":8,"t":30,"y":11,"y2":6},{"s":8,"t":31,"y":11,"y2":8},{"s":8,"t":32,"y":11,"y2":7},{"s":8,"t":33,"y":11,"y2":5},{"s":8,"t":34,"y":11,"y2":8},
{"s":8,"t":34.5,"y":11,"y2":11},{"s":8,"t":35.0,"y":14,"y2":11},{"s":8,"t":35.5,"y":13,"y2":11},{"s":8,"t":36.0,"y":17,"y2":11},{"s":8,"t":36.5,"y":19,"y2":11},{"s":8,"t":36.9,"y":22,"y2":11},{"s":8,"t":37.3,"y":27,"y2":11},{"s":8,"t":37.7,"y":32,"y2":11},{"s":8,"t":38.3,"y":39,"y2":11},{"s":8,"t":38.9,"y":46,"y2":11},{"s":8,"t":39.5,"y":51,"y2":11},{"s":8,"t":40.3,"y":57,"y2":11},{"s":8,"t":46.8,"y":57,"y2":11},{"s":8,"t":47.2,"y":46,"y2":11},{"s":8,"t":47.7,"y":32,"y2":11},{"s":8,"t":48.2,"y":23,"y2":11},{"s":8,"t":48.8,"y":16,"y2":11},{"s":8,"t":49.4,"y":11,"y2":11},
{"s":8,"t":50,"y":11,"y2":7},{"s":8,"t":51,"y":11,"y2":9},{"s":8,"t":52,"y":11,"y2":5},{"s":8,"t":53,"y":11,"y2":8},{"s":8,"t":54,"y":11,"y2":6},{"s":8,"t":55,"y":11,"y2":4},{"s":8,"t":56,"y":11,"y2":8},{"s":8,"t":57,"y":11,"y2":7},{"s":8,"t":58,"y":11,"y2":9},{"s":8,"t":59,"y":11,"y2":5},{"s":8,"t":60,"y":11,"y2":7},{"s":8,"t":61,"y":11,"y2":8},{"s":8,"t":62,"y":11,"y2":6},{"s":8,"t":63,"y":11,"y2":4},{"s":8,"t":64,"y":11,"y2":9},{"s":8,"t":65,"y":11,"y2":7},{"s":8,"t":66,"y":11,"y2":5},{"s":8,"t":67,"y":11,"y2":8},{"s":8,"t":68,"y":11,"y2":6},{"s":8,"t":69,"y":11,"y2":9},{"s":8,"t":70,"y":11,"y2":7},{"s":8,"t":71,"y":11,"y2":5},{"s":8,"t":72,"y":11,"y2":8},{"s":8,"t":73,"y":11,"y2":4},{"s":8,"t":74,"y":11,"y2":7},{"s":8,"t":75,"y":11,"y2":9},{"s":8,"t":76,"y":11,"y2":6},{"s":8,"t":77,"y":11,"y2":8},{"s":8,"t":78,"y":11,"y2":5},{"s":8,"t":79,"y":11,"y2":7},{"s":8,"t":80,"y":11,"y2":6}
]},
"mark": {"type": "area", "color": "black", "interpolate": "linear"},
"encoding": {
  "x": {"field": "t", "type": "quantitative", "scale": {"domain": [0, 80], "nice": false},
        "axis": {"orient": "bottom", "offset": -5, "values": [0,10,20,30,40,50,60,70,80], "labelExpr": "datum.value % 20 == 0 ? datum.label : ''", "labelFontSize": 16, "labelFontWeight": "bold", "labelFlush": false, "labelPadding": 2, "title": "Time [ps]", "titleFontSize": 23, "titleFontWeight": "normal", "titleY": 56, "titleBaseline": "alphabetic"}},
  "y": {"field": "y", "type": "quantitative", "scale": {"domain": [0, 434], "nice": false, "zero": false},
        "axis": {"orient": "left", "offset": -5, "labels": false, "values": [11,61,111,161,211,261,311,361,411], "title": "Pulse Intensity [a.u.]", "titleFontSize": 26, "titleFontWeight": "normal", "titleX": -35, "titleY": 227, "titleBaseline": "alphabetic"}},
  "y2": {"field": "y2"},
  "detail": {"field": "s"}
}
},
{
"data": {"values": [
{"s":"-0.00 V","base":382},{"s":"-0.05 V","base":336},{"s":"-0.10 V","base":289},{"s":"-0.15 V","base":242},{"s":"-0.20 V","base":195},{"s":"-0.25 V","base":149},{"s":"-0.30V","base":104},{"s":"-0.35 V","base":57},{"s":"-0.40 V","base":11}
]},
"mark": {"type": "text", "align": "right", "baseline": "alphabetic", "dy": -3, "fontSize": 14.5, "fontWeight": "bold", "font": "Liberation Sans", "color": "black"},
"encoding": {
  "x": {"datum": 78.6, "type": "quantitative", "scale": {"domain": [0, 80], "nice": false}, "axis": {"orient": "top", "offset": -5, "values": [10,20,30,40,50,60,70], "labels": false, "title": null}},
  "y": {"field": "base", "type": "quantitative", "scale": {"domain": [0, 434], "nice": false, "zero": false}, "axis": {"orient": "right", "offset": -5, "labels": false, "values": [11,61,111,161,211,261,311,361,411], "title": null}},
  "text": {"field": "s"}
}
}
],
"resolve": {"axis": {"x": "independent", "y": "independent"}}
}
